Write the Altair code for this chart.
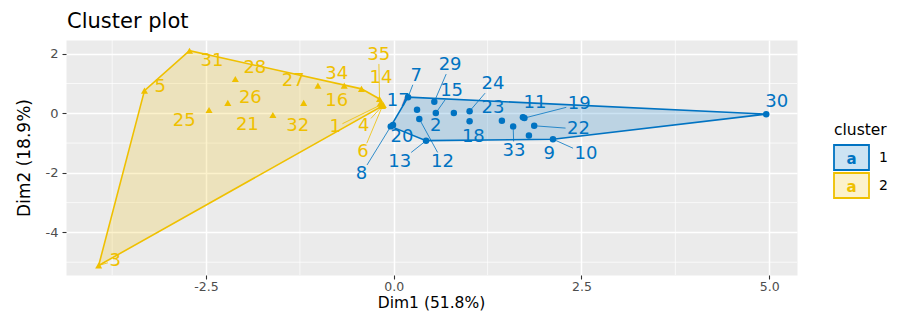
import altair as alt
import pandas as pd

# ---------------- data ----------------
point_id = ["1", "3", "4", "5", "6", "14", "16", "21", "25", "26", "27", "28", "31", "32", "34", "35",
            "2", "7", "8", "9", "10", "11", "12", "13", "15", "17", "18", "19", "20", "22", "23", "24",
            "29", "30", "33"]
point_cluster = ["2"] * 16 + ["1"] * 19
dim1 = [-0.16, -3.93, -0.14, -3.32, -0.15, -0.43, -0.18, -1.61, -2.46, -2.21, -1.01, -2.11, -2.72, -1.20,
        -0.66, -0.19,
        0.80, 0.19, -0.04, 1.80, 2.12, 1.72, 0.34, 0.43, 0.56, 0.31, 1.01, 1.74, -0.01, 1.87, 1.44, 1.01,
        0.54, 4.96, 1.59]
dim2 = [0.30, -5.11, 0.28, 0.76, 0.25, 0.82, 0.33, -0.06, 0.11, 0.35, 0.93, 1.15, 2.10, 0.35, 0.93, 0.48,
        0.01, 0.54, -0.44, -0.75, -0.87, -0.13, -0.19, -0.92, 0.01, 0.12, -0.27, -0.16, -0.39, -0.42, -0.25,
        0.07, 0.39, -0.03, -0.44]
# repelled label positions (data units)
label_dim1 = [-0.78, -3.71, -0.40, -3.11, -0.41, -0.17, -0.76, -1.95, -2.79, -1.91, -1.34, -1.85, -2.42,
              -1.28, -0.76, -0.20,
              0.56, 0.30, -0.43, 2.07, 2.56, 1.88, 0.65, 0.08, 0.77, 0.06, 1.06, 2.47, 0.11, 2.46, 1.32,
              1.32, 0.75, 5.10, 1.60]
label_dim2 = [-0.47, -4.95, -0.44, 0.87, -1.31, 1.17, 0.42, -0.38, -0.25, 0.51, 1.09, 1.51, 1.76, -0.42,
              1.32, 1.96,
              -0.44, 1.26, -2.04, -1.37, -1.37, 0.35, -1.62, -1.62, 0.76, 0.42, -0.81, 0.31, -0.81, -0.53,
              0.17, 0.98, 1.62, 0.39, -1.25]
has_segment = [True, True, True, False, True, False, False, False, False, False, False, False, False, False,
               False, True,
               False, True, True, False, True, False, True, True, True, False, False, True, False, True,
               False, True, True, False, True]

clusters = ["1", "2"]
cluster_colors = ["#0073C2", "#EFC000"]
cluster_shapes = ["circle", "triangle-up"]

x_ticks = [-2.5, 0.0, 2.5, 5.0]
y_ticks = [2, 0, -2, -4]
x_domain = [-4.365, 5.37]
y_domain = [-5.43, 2.46]

plot_title = "Cluster plot"
x_title = "Dim1 (51.8%)"
y_title = "Dim2 (18.9%)"
legend_title = "cluster"

# ---------------- layout / style ----------------
FONT = "DejaVu Sans"
W, H = 731, 235
LABEL_SIZE = 18

df = pd.DataFrame(dict(id=point_id, cluster=point_cluster, x=dim1, y=dim2,
                       lx=label_dim1, ly=label_dim2, seg=has_segment))


def convex_hull(pts):
    pts = sorted(set(pts))
    if len(pts) <= 2:
        return pts

    def cross(o, a, b):
        return (a[0] - o[0]) * (b[1] - o[1]) - (a[1] - o[1]) * (b[0] - o[0])

    lower, upper = [], []
    for p in pts:
        while len(lower) >= 2 and cross(lower[-2], lower[-1], p) <= 0:
            lower.pop()
        lower.append(p)
    for p in reversed(pts):
        while len(upper) >= 2 and cross(upper[-2], upper[-1], p) <= 0:
            upper.pop()
        upper.append(p)
    return lower[:-1] + upper[:-1]


# hull polygons
hull_rows = []
for c in clusters:
    sub = df[df.cluster == c]
    h = convex_hull(list(zip(sub.x, sub.y)))
    h = h + [h[0]]
    for k, (hx, hy) in enumerate(h):
        hull_rows.append(dict(cluster=c, x=hx, y=hy, k=k))
hull_df = pd.DataFrame(hull_rows)

# label segments: from point to the edge of the label box
sx = W / (x_domain[1] - x_domain[0])
sy = H / (y_domain[1] - y_domain[0])
seg_rows = []
for r in df.itertuples():
    if not r.seg:
        continue
    dxp = (r.x - r.lx) * sx
    dyp = (r.y - r.ly) * sy
    hw = len(r.id) * 0.636 * LABEL_SIZE / 2 + 1.5
    hh = 0.729 * LABEL_SIZE / 2 + 2.5
    tx = hw / abs(dxp) if dxp != 0 else 1e9
    ty = hh / abs(dyp) if dyp != 0 else 1e9
    t = min(tx, ty)
    if t >= 1:
        continue
    ex = r.lx + t * dxp / sx
    ey = r.ly + t * dyp / sy
    seg_rows.append(dict(cluster=r.cluster, x=r.x, y=r.y, x2=ex, y2=ey))
seg_df = pd.DataFrame(seg_rows)

# minor grid positions (midpoints of major ticks)
x_minor = [x_ticks[0] - (x_ticks[1] - x_ticks[0]) / 2] + [(a + b) / 2 for a, b in zip(x_ticks[:-1], x_ticks[1:])]
y_minor = [(a + b) / 2 for a, b in zip(y_ticks[:-1], y_ticks[1:])] + [y_ticks[-1] + (y_ticks[-1] - y_ticks[-2]) / 2]

xs = alt.Scale(domain=x_domain, nice=False, zero=False)
ys = alt.Scale(domain=y_domain, nice=False, zero=False)
x_axis = alt.Axis(values=x_ticks, title=None,
                  labelExpr="replace(format(datum.value, '.1f'), '\u2212', '-')")
y_axis = alt.Axis(values=y_ticks, title=y_title,
                  labelExpr="replace(format(datum.value, 'd'), '\u2212', '-')")


def fx(field):
    return alt.X(f"{field}:Q", scale=xs, axis=x_axis, title=None)


def fy(field):
    return alt.Y(f"{field}:Q", scale=ys, axis=y_axis, title=y_title)


layers = []
layers.append(alt.Chart(pd.DataFrame({"x": x_minor})).mark_rule(color="white", strokeWidth=0.7)
              .encode(x=fx("x")))
layers.append(alt.Chart(pd.DataFrame({"y": y_minor})).mark_rule(color="white", strokeWidth=0.7)
              .encode(y=fy("y")))

for c, col in zip(clusters, cluster_colors):
    layers.append(
        alt.Chart(hull_df[hull_df.cluster == c]).mark_line(
            color=col, fill=col, fillOpacity=0.2, strokeWidth=1.6
        ).encode(x=fx("x"), y=fy("y"), order="k:Q")
    )

for c, col in zip(clusters, cluster_colors):
    sd = seg_df[seg_df.cluster == c]
    if len(sd):
        layers.append(
            alt.Chart(sd).mark_rule(color=col, strokeWidth=0.8)
            .encode(x=fx("x"), y=fy("y"), x2="x2:Q", y2="y2:Q")
        )

for c, col, shp in zip(clusters, cluster_colors, cluster_shapes):
    layers.append(
        alt.Chart(df[df.cluster == c]).mark_point(
            shape=shp, filled=True, color=col, opacity=1, size=42 if shp == "circle" else 50
        ).encode(x=fx("x"), y=fy("y"))
    )

for c, col in zip(clusters, cluster_colors):
    layers.append(
        alt.Chart(df[df.cluster == c]).mark_text(
            font=FONT, fontSize=LABEL_SIZE, color=col, align="center", baseline="middle"
        ).encode(x=fx("lx"), y=fy("ly"), text="id:N")
    )

# plot title (top-left, above the panel)
layers.append(
    alt.Chart(pd.DataFrame({"t": [plot_title]})).mark_text(
        font=FONT, fontSize=21, color="black", align="left", baseline="alphabetic"
    ).encode(x=alt.value(1), y=alt.value(-12), text="t:N")
)
# x axis title, placed under the tick labels
layers.append(
    alt.Chart(pd.DataFrame({"t": [x_title]})).mark_text(
        font=FONT, fontSize=15.5, color="black", align="center", baseline="alphabetic"
    ).encode(x=alt.value(W / 2), y=alt.value(H + 33), text="t:N")
)

# manual legend (ggplot-style keys), drawn to the right of the panel
LEG_X = 768
LEG_Y0 = 105
KEY_W, KEY_H, KEY_GAP = 35, 25, 28
layers.append(
    alt.Chart(pd.DataFrame({"t": [legend_title]})).mark_text(
        font=FONT, fontSize=15.5, color="black", align="left", baseline="middle"
    ).encode(x=alt.value(LEG_X), y=alt.value(LEG_Y0 - 15), text="t:N")
)
for i, (c, col) in enumerate(zip(clusters, cluster_colors)):
    y0 = LEG_Y0 + i * KEY_GAP
    d = pd.DataFrame({"c": [c], "a": ["a"]})
    layers.append(
        alt.Chart(d).mark_rect(fill=col, fillOpacity=0.2, stroke=col, strokeWidth=1.8)
        .encode(x=alt.value(LEG_X), x2=alt.value(LEG_X + KEY_W), y=alt.value(y0), y2=alt.value(y0 + KEY_H))
    )
    layers.append(
        alt.Chart(d).mark_text(font=FONT, fontSize=15, fontWeight="bold", color=col,
                               align="center", baseline="middle")
        .encode(x=alt.value(LEG_X + KEY_W / 2), y=alt.value(y0 + KEY_H / 2 + 1), text="a:N")
    )
    layers.append(
        alt.Chart(d).mark_text(font=FONT, fontSize=14, color="black", align="left", baseline="middle")
        .encode(x=alt.value(LEG_X + KEY_W + 10), y=alt.value(y0 + KEY_H / 2), text="c:N")
    )

chart = alt.layer(*layers).properties(
    width=W, height=H,
    autosize=alt.AutoSizeParams(type="none"),
    padding={"left": 58, "top": 32, "right": 93, "bottom": 37},
).configure_view(
    fill="#EBEBEB", stroke="transparent"
).configure_axis(
    domain=False, grid=True, gridColor="white", gridWidth=1.5,
    tickColor="#333333", tickWidth=1.1, tickSize=4,
    labelColor="#4D4D4D", labelFont=FONT, labelFontSize=13,
    titleFont=FONT, titleFontSize=17, titleFontWeight="normal", titleColor="black",
).configure_axisX(labelPadding=1, labelFontSize=12.5).configure_axisY(labelPadding=4, titlePadding=12)

chart.save("out.html", embed_options={"renderer": "svg", "actions": False})
